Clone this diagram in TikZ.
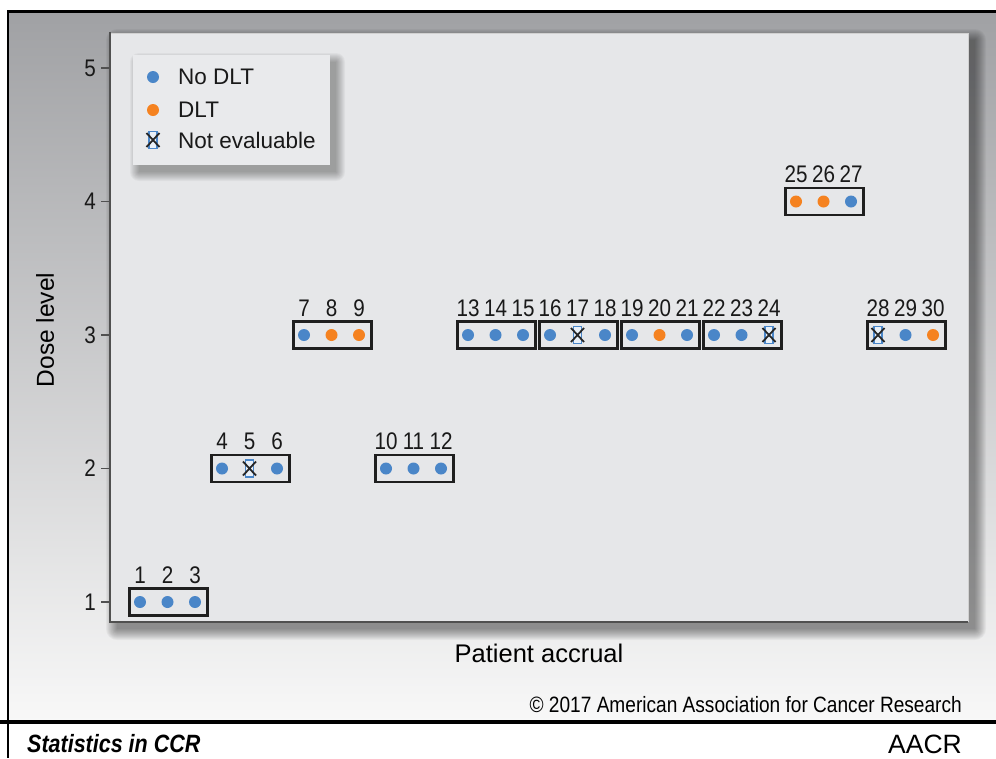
\documentclass[tikz,border=0pt]{standalone}
\usepackage{fontspec}
\setmainfont{Liberation Sans}
\newfontfamily\narrowfont[FakeStretch=0.86]{Liberation Sans}
\definecolor{dltblue}{RGB}{74,134,200}
\definecolor{dltorange}{RGB}{245,130,32}
\definecolor{panelgray}{RGB}{230,231,233}
\definecolor{legendgray}{RGB}{233,234,236}
\definecolor{axisgray}{RGB}{80,80,80}
\definecolor{bgtop}{RGB}{160,161,164}
\definecolor{bgbottom}{RGB}{248,248,248}
\tikzset{
  patient/.style={circle, inner sep=0pt, minimum size=12pt},
  st-n/.style={patient, fill=dltblue},
  st-d/.style={patient, fill=dltorange},
  st-x/.style={rectangle, draw=dltblue, fill=dltblue!12, line width=1.5pt, inner sep=0pt, minimum width=8pt, minimum height=17pt},
  xcross/.style={line width=1.8pt, black!85},
  cohort/.style={draw=black!88, line width=2.4pt, inner sep=0pt, minimum width=78pt, minimum height=27pt},
  numlabel/.style={font=\narrowfont\fontsize{24}{26}\selectfont, text=black!90, inner sep=0pt},
  legtext/.style={font=\fontsize{22.5}{25}\selectfont, text=black!90, inner sep=0pt, anchor=west},
  axisline/.style={axisgray, line width=2pt},
}
\begin{document}
\begin{tikzpicture}[x=1pt, y=-1pt]
  \useasboundingbox (0,0) rectangle (996,758);
  \fill[white] (0,0) rectangle (996,758);
  % page background and frame
  \shade[top color=bgtop, bottom color=bgbottom] (8,11) rectangle (996,722);
  \draw[black, line width=3pt] (8,11) -- (996,11);
  \draw[black, line width=2.6pt] (8,10) -- (8,758);
  \draw[black, line width=4pt] (0,722) -- (996,722);

  % plot panel with soft shadow
  \foreach \r in {0,...,11}
    \fill[black, opacity=0.04, rounded corners=\r pt] (117-\r,40-\r) rectangle (975+\r,629+\r);
  \fill[panelgray] (110,33) rectangle (968,622);
  \draw[black!18, line width=0.8pt] (110,33) -- (968,33) -- (968,622);
  \draw[axisline] (110,32) -- (110,622) -- (968,622);

  % y axis ticks
  \foreach \d in {1,...,5}{
    \pgfmathsetmacro\yd{602-133.5*(\d-1)}
    \node[numlabel, anchor=east] (t\d) at (96,\yd) {\d};
    \draw[axisgray, line width=1.2pt] (101,\yd) -- (110,\yd);
  }
  \node[font=\fontsize{24.5}{26}\selectfont, rotate=90] (ylabel) at (45,330) {Dose level};
  \node[font=\fontsize{25.5}{27}\selectfont] (xlabel) at (539,653) {Patient accrual};

  % cohorts of three patients
  \foreach \g/\d/\a/\b/\c in {1/1/n/n/n, 2/2/n/x/n, 3/3/n/d/d, 4/2/n/n/n, 5/3/n/n/n,
                              6/3/n/x/n, 7/3/n/d/n, 8/3/n/n/x, 9/4/d/d/n, 10/3/x/n/d}{
    \pgfmathsetmacro\xa{140+82*(\g-1)}
    \pgfmathsetmacro\yd{602-133.5*(\d-1)}
    \pgfmathtruncatemacro\na{3*\g-2}
    \pgfmathtruncatemacro\nb{3*\g-1}
    \pgfmathtruncatemacro\nc{3*\g}
    \node[cohort] (box\g) at (\xa+28.5,\yd) {};
    \node[st-\a] (p\na) at (\xa,\yd) {};
    \node[st-\b] (p\nb) at (\xa+27.5,\yd) {};
    \node[st-\c] (p\nc) at (\xa+55,\yd) {};
    \node[numlabel] (n\na) at (\xa,\yd-27) {\na};
    \node[numlabel] (n\nb) at (\xa+27.5,\yd-27) {\nb};
    \node[numlabel] (n\nc) at (\xa+55,\yd-27) {\nc};
  }

  % legend
  \foreach \r in {0,...,9}
    \fill[black, opacity=0.035, rounded corners=\r pt] (139-\r,62-\r) rectangle (336+\r,172+\r);
  \fill[legendgray] (133,55) rectangle (330,165);
  \node[st-n] (legn) at (153,77) {};
  \node[st-d] (legd) at (153,110) {};
  \node[st-x] (legx) at (153,140) {};
  \node[legtext] (legntext) at (178,77) {No DLT};
  \node[legtext] (legdtext) at (178,110) {DLT};
  \node[legtext] (legxtext) at (178,140) {Not evaluable};

  % crosses for not evaluable patients
  \foreach \i in {p5,p17,p24,p28,legx}
    \draw[xcross] ([shift={(-6.5,-7)}]\i.center) -- ([shift={(6.5,7)}]\i.center)
                  ([shift={(-6.5,7)}]\i.center) -- ([shift={(6.5,-7)}]\i.center);

  % credits
  \node[font=\narrowfont\fontsize{22.2}{24}\selectfont, anchor=east, inner sep=0pt] (copyright) at (962,705)
    {© 2017 American Association for Cancer Research};
  \node[font=\narrowfont\fontsize{25}{27}\selectfont\bfseries\itshape, anchor=west, inner sep=0pt] (footer) at (27,744) {Statistics in CCR};
  \node[font=\fontsize{26.5}{28}\selectfont, anchor=east, inner sep=0pt] (logo) at (962,744) {AACR};
\end{tikzpicture}
\end{document}
